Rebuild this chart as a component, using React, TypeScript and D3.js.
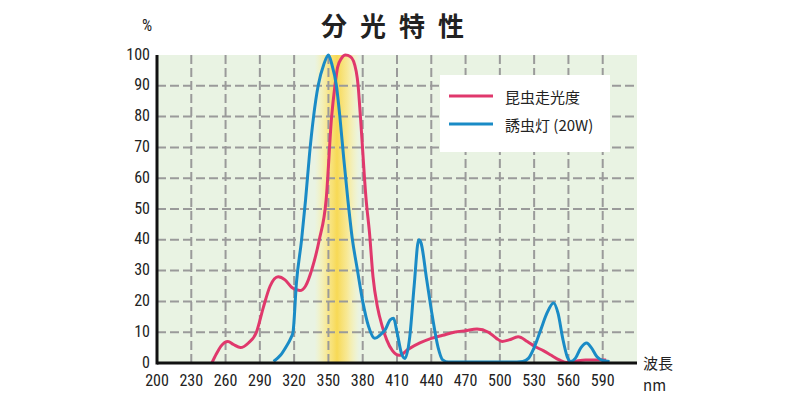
import React from "react";
import * as d3 from "d3";

const xTicks = [200, 230, 260, 290, 320, 350, 380, 410, 440, 470, 500, 530, 560, 590];
const yTicks = [0, 10, 20, 30, 40, 50, 60, 70, 80, 90, 100];
const gridY = [10, 20, 30, 40, 50, 60, 70, 80, 90];
const gridX = [230, 260, 290, 320, 350, 380, 410, 440, 470, 500, 530, 560, 590];

const titleChars = ["分", "光", "特", "性"];

const insectWl = [248, 252, 256, 262, 267, 273, 280, 287, 293, 299, 306, 312, 318, 325, 330, 336, 342, 348, 352.8, 355.7, 358, 361.5, 365, 369, 372, 376, 378, 383, 386, 389, 393, 397, 401, 406, 412, 420, 430, 440, 450, 460, 470, 480, 490, 497, 502, 508, 516, 524, 530, 538, 545, 552, 558, 565, 575, 585, 593];
const insectVal = [0, 3, 5.5, 7, 6, 5, 6.5, 10, 18, 25, 28, 27, 24.5, 23.5, 25, 31, 40, 53, 80, 90, 96, 99, 100, 99.5, 98, 90, 80, 53, 42, 28, 18, 12, 7.5, 4, 2.5, 4.5, 6.5, 8, 9, 10, 10.5, 11, 10, 8, 7, 7.5, 8.5, 7, 5.5, 4, 2.5, 1, 0.2, 0.5, 1, 1, 1];

const lampWl = [302, 308, 313, 317, 319, 322, 326.5, 330, 333.5, 337, 341, 346, 350, 353, 357, 360, 363.5, 367, 371, 375, 380, 385, 390.5, 395, 400, 404, 407, 410, 414, 417, 421, 425, 429, 431, 436, 441, 446, 450, 455, 470, 490, 510, 520, 525, 530, 536, 541, 547, 551, 555, 559, 562, 566, 571, 576, 580, 585, 590, 596];
const lampVal = [0.5, 2.5, 5.3, 8, 10, 26, 40, 53, 68, 80, 90, 97, 100, 97, 90, 80, 66, 53, 40, 31, 20, 12, 8, 9, 11, 14, 14.5, 10, 3, 1.5, 8, 25, 40, 39, 27, 15, 5, 1, 0.3, 0.3, 0.3, 0.3, 0.5, 1.5, 5, 11, 16, 19.5, 16, 8, 2, 0.5, 1.5, 5, 6.5, 5, 2, 0.8, 0.5];

const seriesNames = ["昆虫走光度", "誘虫灯 (20W)"];
const seriesColors = ["#e0386c", "#1a8bc6"];

const W = 800;
const H = 400;
const left = 157;
const right = 637;
const top = 55;
const bottom = 363;

const numFont = "'Liberation Sans Narrow', 'Roboto Condensed', 'Liberation Sans', sans-serif";
const jpFont = "'Noto Sans CJK JP', sans-serif";

export default function App() {
  const x = d3.scaleLinear().domain([200, 620]).range([left, right]);
  const y = d3.scaleLinear().domain([0, 100]).range([bottom, top]);
  const line = d3
    .line<[number, number]>()
    .x((d) => x(d[0]))
    .y((d) => y(d[1]))
    .curve(d3.curveMonotoneX);
  const insect = line(insectWl.map((w, i) => [w, insectVal[i]] as [number, number])) || "";
  const lamp = line(lampWl.map((w, i) => [w, lampVal[i]] as [number, number])) || "";

  return (
    <svg width={W} height={H} style={{ position: "absolute", left: 0, top: 0, background: "#fff" }}>
      <defs>
        <linearGradient id="band" x1="0" x2="1" y1="0" y2="0">
          <stop offset="0" stopColor="#fff3a0" stopOpacity="0" />
          <stop offset="0.28" stopColor="#fae685" stopOpacity="0.85" />
          <stop offset="0.5" stopColor="#f7d955" stopOpacity="1" />
          <stop offset="0.72" stopColor="#fae685" stopOpacity="0.85" />
          <stop offset="1" stopColor="#fff3a0" stopOpacity="0" />
        </linearGradient>
      </defs>
      {titleChars.map((c, i) => (
        <text key={"t" + i} x={334 + i * 39} y={24} textAnchor="middle" dominantBaseline="central" fontFamily={jpFont} fontWeight="bold" fontSize={26} fill="#222">
          {c}
        </text>
      ))}
      <rect x={left} y={top} width={right - left} height={bottom - top} fill="#e9f3e3" />
      <rect x={x(338)} y={top} width={x(377) - x(338)} height={bottom - top} fill="url(#band)" />
      {gridY.map((v) => (
        <line key={"gy" + v} x1={left} x2={right} y1={y(v)} y2={y(v)} stroke="#9a9a9a" strokeWidth={2} strokeDasharray="9,4" />
      ))}
      {gridX.map((v) => (
        <line key={"gx" + v} x1={x(v)} x2={x(v)} y1={top} y2={bottom} stroke="#9a9a9a" strokeWidth={2} strokeDasharray="9,4" />
      ))}
      <rect x={440} y={75} width={170} height={77} fill="#ffffff" />
      <line x1={449} x2={493} y1={96} y2={96} stroke={seriesColors[0]} strokeWidth={3} />
      <text x={505} y={96} dominantBaseline="central" fontFamily={jpFont} fontSize={15} fill="#222">
        {seriesNames[0]}
      </text>
      <line x1={449} x2={493} y1={124} y2={124} stroke={seriesColors[1]} strokeWidth={3} />
      <text x={505} y={124} dominantBaseline="central" fontFamily={jpFont} fontSize={15} fill="#222">
        {seriesNames[1]}
      </text>
      <path d={insect} fill="none" stroke={seriesColors[0]} strokeWidth={3} />
      <path d={lamp} fill="none" stroke={seriesColors[1]} strokeWidth={3} />
      <line x1={left} x2={left} y1={top} y2={bottom + 1.5} stroke="#111" strokeWidth={3} />
      <line x1={left} x2={right} y1={bottom} y2={bottom} stroke="#111" strokeWidth={3} />
      {yTicks.map((v) => (
        <text key={"yt" + v} x={150} y={y(v) - 1} textAnchor="end" dominantBaseline="central" fontFamily={numFont} fontSize={16} fill="#222">
          {v}
        </text>
      ))}
      <text x={147} y={31} textAnchor="middle" fontFamily={numFont} fontSize={16} fill="#222">%</text>
      {xTicks.map((v) => (
        <text key={"xt" + v} x={x(v)} y={380} textAnchor="middle" dominantBaseline="central" fontFamily={numFont} fontSize={16} fill="#222">
          {v}
        </text>
      ))}
      <text x={643} y={362} dominantBaseline="central" fontFamily={jpFont} fontSize={15} fill="#222">波長</text>
      <text x={643} y={384} dominantBaseline="central" fontFamily={jpFont} fontSize={15} fill="#222">nm</text>
    </svg>
  );
}
